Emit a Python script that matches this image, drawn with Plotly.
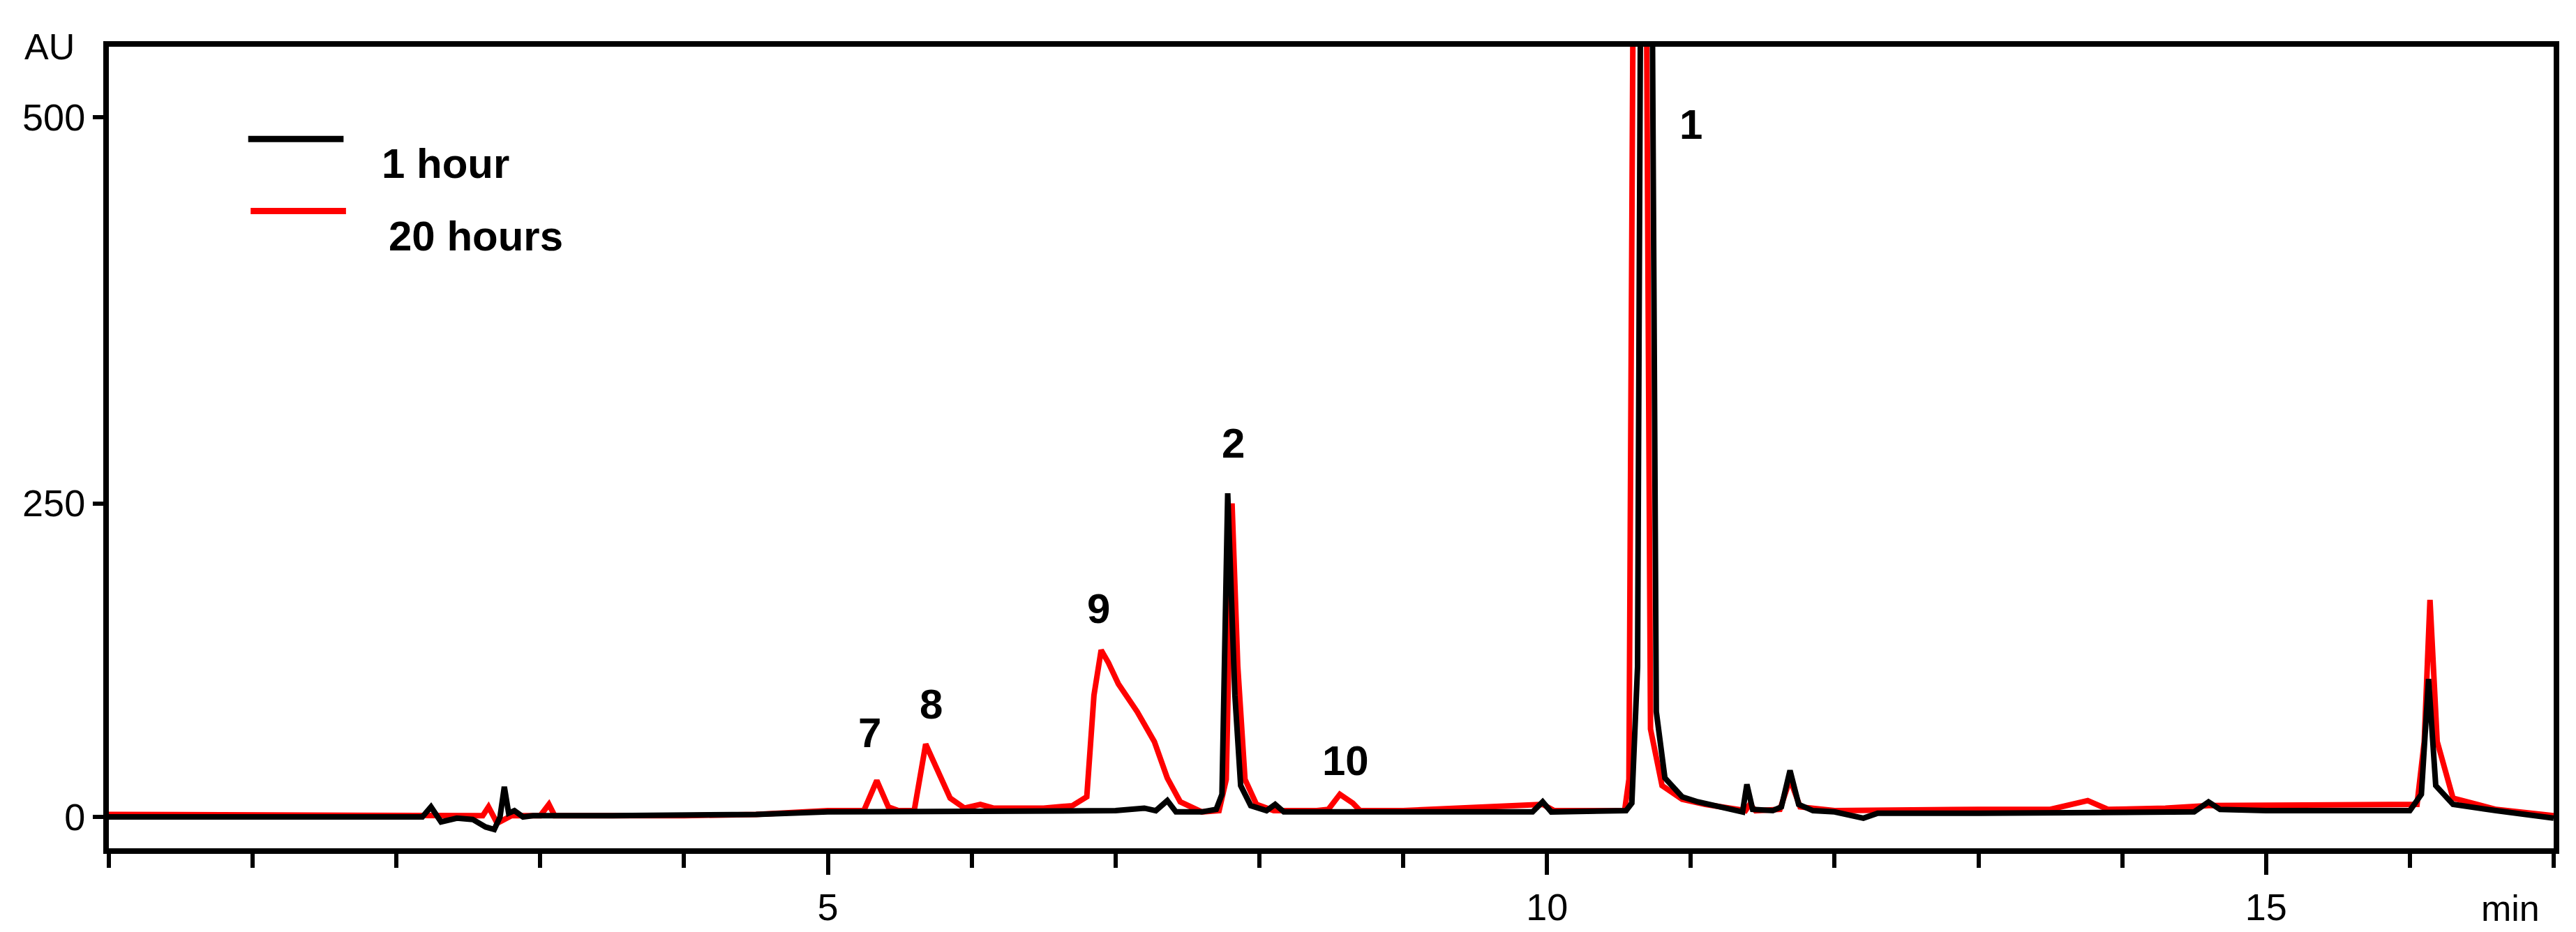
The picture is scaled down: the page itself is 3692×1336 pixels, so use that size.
import plotly.graph_objects as go

# Retention time (min) and absorbance (AU)
t_1h = [0,2.0,2.18,2.24,2.31,2.42,2.53,2.62,2.68,2.72,2.75,2.78,2.82,2.88,2.95,3.5,4.0,4.5,5.0,6.0,7.0,7.2,7.28,7.36,7.42,7.6,7.7,7.74,7.78,7.83,7.87,7.94,8.05,8.11,8.17,9.0,9.9,9.97,10.03,10.55,10.59,10.63,10.66,10.72,10.76,10.82,10.94,11.05,11.17,11.28,11.36,11.39,11.43,11.57,11.63,11.69,11.75,11.85,12.0,12.2,12.3,13.0,14.0,14.5,14.6,14.68,15.0,16.0,16.08,16.13,16.18,16.3,16.6,17.0]
y_1h = [0,0,0,8,-4,-1,-2,-8,-10,0,24,3,5,0,1,1,1,2,4,4,5,7,5,13,4,4,6,18,258,97,25,9,5,10,4,4,4,12,4,5,11,120,900,900,84,31,16,12,9,6,4,26,6,5,8,37,10,5,4,-1,3,3,3,4,12,6,5,5,18,110,25,10,5,-1]

t_20h = [0,2.2,2.5,2.6,2.64,2.7,2.8,3.0,3.06,3.1,4.0,4.5,5.0,5.25,5.34,5.42,5.49,5.6,5.68,5.75,5.85,5.95,6.06,6.15,6.5,6.7,6.8,6.85,6.9,6.95,7.02,7.15,7.27,7.36,7.45,7.6,7.72,7.77,7.81,7.85,7.9,7.98,8.1,8.4,8.48,8.56,8.65,8.7,9.0,9.97,10.05,10.54,10.57,10.61,10.68,10.72,10.8,10.94,11.1,11.38,11.41,11.45,11.62,11.69,11.76,12.0,12.5,13.0,13.5,13.76,13.9,14.3,14.6,15.0,15.2,16.05,16.1,16.14,16.19,16.3,16.6,17.0]
y_20h = [2,2,2,1,8,-5,1,1,10,1,1,2,5,5,29,8,5,5,58,40,15,7,10,7,7,9,16,97,133,123,106,84,60,31,12,4,5,30,250,120,30,10,5,5,6,18,11,5,5,10,5,5,30,900,900,70,25,14,10,5,10,5,6,30,8,5,6,6,6,13,6,7,9,9,10,10,60,173,60,15,6,1]

peak_labels = ["1", "2", "9", "7", "8", "10"]
label_t = [11.0, 7.82, 6.88, 5.29, 5.72, 8.6]
label_y = [552, 298, 166, 67, 90, 45]

y_tickvals = [0, 250, 558]
y_ticktext = ["0", "250", "500"]
x_tickvals = [5, 10, 15]

series_names = ["1 hour", "20 hours"]
series_colors = ["black", "#ff0000"]

fig = go.Figure()
fig.add_trace(go.Scatter(x=t_20h, y=y_20h, mode="lines", name=series_names[1],
                         line=dict(color=series_colors[1], width=8), showlegend=False))
fig.add_trace(go.Scatter(x=t_1h, y=y_1h, mode="lines", name=series_names[0],
                         line=dict(color=series_colors[0], width=8), showlegend=False))

for lab, tx, ty in zip(peak_labels, label_t, label_y):
    fig.add_annotation(x=tx, y=ty, text=f"<b>{lab}</b>", showarrow=False,
                       font=dict(family="Liberation Sans", size=60, color="black"))

# manual legend
leg_y = [0.885, 0.795]
leg_line_x = [(0.057, 0.096), (0.058, 0.097)]
leg_txt_x = [0.111, 0.114]
for i in range(2):
    fig.add_shape(type="line", xref="paper", yref="paper", x0=leg_line_x[i][0], x1=leg_line_x[i][1],
                  y0=leg_y[i], y1=leg_y[i], line=dict(color=series_colors[i], width=9))
    fig.add_annotation(xref="paper", yref="paper", x=leg_txt_x[i], y=leg_y[i],
                       xanchor="left", text=f"<b>{series_names[i]}</b>", showarrow=False,
                       font=dict(family="Liberation Sans", size=60, color="black"))

fig.add_annotation(xref="paper", yref="paper", x=-0.035, y=1.0, text="AU",
                   showarrow=False, xanchor="left", yanchor="middle",
                   font=dict(family="Liberation Sans", size=52, color="black"))
fig.add_annotation(xref="paper", yref="paper", x=0.995, y=-0.075, text="min",
                   showarrow=False, xanchor="right", yanchor="middle",
                   font=dict(family="Liberation Sans", size=52, color="black"))

fig.update_layout(
    width=3692, height=1336, plot_bgcolor="white", paper_bgcolor="white",
    margin=dict(l=148, r=40, t=59, b=128),
    xaxis=dict(range=[0, 17], tickvals=x_tickvals, ticks="outside", ticklen=30, tickwidth=6,
               tickcolor="black", showline=True, linewidth=8, linecolor="black", mirror=True,
               showgrid=False, zeroline=False,
               minor=dict(dtick=1, ticks="outside", ticklen=20, tickwidth=6, tickcolor="black", showgrid=False),
               tickfont=dict(family="Liberation Sans", size=54, color="black")),
    yaxis=dict(range=[-25, 614], tickvals=y_tickvals, ticktext=y_ticktext, ticks="outside",
               ticklen=15, tickwidth=6, tickcolor="black", showline=True, linewidth=8,
               linecolor="black", mirror=True, showgrid=False, zeroline=False,
               tickfont=dict(family="Liberation Sans", size=54, color="black")),
)
fig.write_html("out.html")
